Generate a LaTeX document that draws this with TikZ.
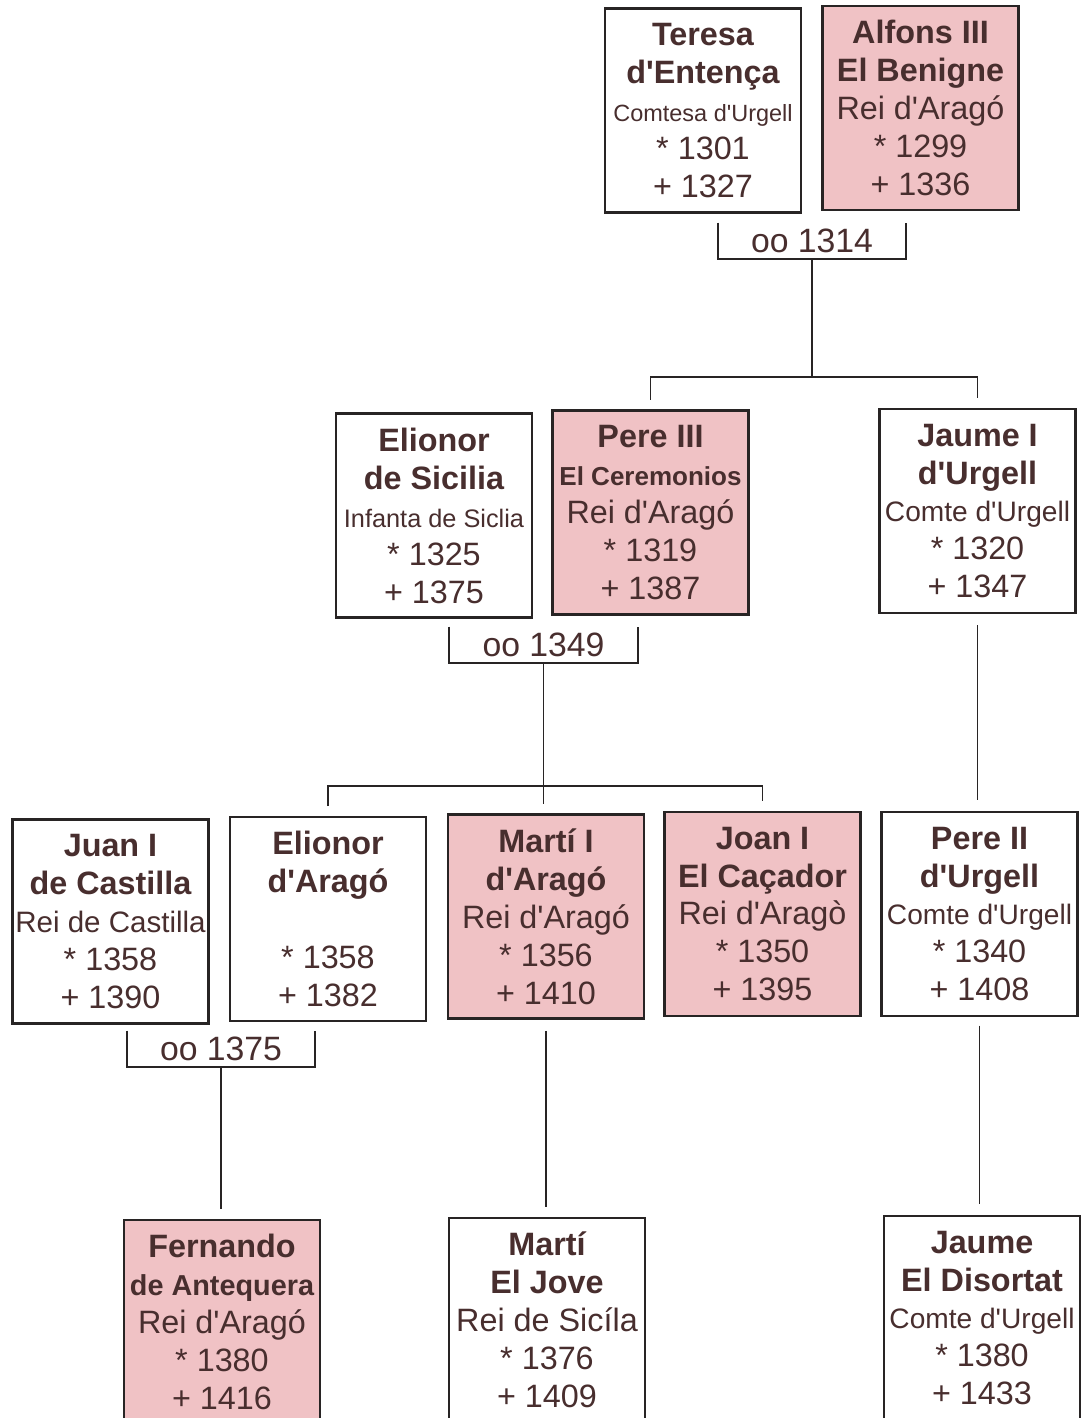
\documentclass[tikz,border=0pt]{standalone}
\usepackage{fontspec}
\setmainfont{Liberation Sans}[Ligatures=TeXOff]
\definecolor{ink}{RGB}{72,46,46}
\definecolor{frame}{RGB}{40,36,36}
\definecolor{rosa}{RGB}{240,194,197}
\newcommand{\who}[2][23]{{\fontsize{#1}{27}\selectfont\bfseries #2}}
\newcommand{\rank}[2][20]{{\fontsize{#1}{27}\selectfont #2}}
\tikzset{
  person/.style={draw=frame, line width=1.6pt, minimum width=4.9cm, minimum height=5.1cm,
    inner sep=0pt, align=center, text=ink, font=\fontsize{23}{27}\selectfont},
  king/.style={person, fill=rosa},
  wed/.style={minimum width=4.7cm, minimum height=0.9cm, inner sep=0pt, text=ink,
    font=\fontsize{24}{27}\selectfont},
  link/.style={draw=frame, line width=1.2pt}
}
\begin{document}
\begin{tikzpicture}[x=0.025cm,y=-0.025cm]
\path[use as bounding box] (0,0) rectangle (1082,1418);
\clip (0,0) rectangle (1082,1418);
\fill[white] (0,0) rectangle (1082,1418);

% first generation
\node[person] (teresa) at (703,110.5) {\who{Teresa}\\ \who{d'Entença}\\ \rank[16.7]{Comtesa d'Urgell}\\ * 1301\\ + 1327};
\node[king] (alfons) at (920.5,108) {\who{Alfons III}\\ \who{El Benigne}\\ Rei d'Aragó\\ * 1299\\ + 1336};
\node[wed] (w1314) at (812,241) {oo 1314};

% second generation
\node[person] (elisic) at (434,515.5) {\who{Elionor}\\ \who{de Sicilia}\\ \rank[18]{Infanta de Siclia}\\ * 1325\\ + 1375};
\node[king] (pereiii) at (650.5,512.5) {\who{Pere III}\\ \who[18.5]{El Ceremonios}\\ Rei d'Aragó\\ * 1319\\ + 1387};
\node[person] (jaumei) at (977.5,511) {\who{Jaume I}\\ \who{d'Urgell}\\ \rank{Comte d'Urgell}\\ * 1320\\ + 1347};
\node[wed] (w1349) at (543.5,645) {oo 1349};

% third generation
\node[person] (juan) at (110.5,921.5) {\who{Juan I}\\ \who{de Castilla}\\ \rank[21]{Rei de Castilla}\\ * 1358\\ + 1390};
\node[person] (eliara) at (328,919) {\who{Elionor}\\ \who{d'Aragó}\\ \mbox{}\\ * 1358\\ + 1382};
\node[king] (marti) at (546,916.5) {\who{Martí I}\\ \who{d'Aragó}\\ Rei d'Aragó\\ * 1356\\ + 1410};
\node[king] (joan) at (762.5,914) {\who{Joan I}\\ \who{El Caçador}\\ Rei d'Aragò\\ * 1350\\ + 1395};
\node[person] (pereii) at (979.5,914) {\who{Pere II}\\ \who{d'Urgell}\\ \rank{Comte d'Urgell}\\ * 1340\\ + 1408};
\node[wed] (w1375) at (221,1049) {oo 1375};

% fourth generation
\node[king] (fernando) at (222,1322) {\who{Fernando}\\ \who[20.5]{de Antequera}\\ Rei d'Aragó\\ * 1380\\ + 1416};
\node[person] (jove) at (547,1320) {\who{Martí}\\ \who{El Jove}\\ Rei de Sicíla\\ * 1376\\ + 1409};
\node[person] (jaumed) at (982,1318) {\who{Jaume}\\ \who{El Disortat}\\ \rank{Comte d'Urgell}\\ * 1380\\ + 1433};

% marriages
\foreach \w in {w1314,w1349,w1375}
  \draw[link] (\w.north west) |- (\w.south) -| (\w.north east);

% children
\draw[link] (w1314.south) -- ++(0,118) coordinate (k1);
\draw[link, shorten <=7pt, shorten >=7pt] (pereiii.north) |- (k1) -| (jaumei.north);
\draw[link, shorten >=7pt] (w1349.south) -- (w1349.south |- marti.north);
\path (w1349.south) ++(0,123) coordinate (k2);
\draw[link, shorten <=7pt, shorten >=7pt] (eliara.north) |- (k2) -| (joan.north);
\draw[link, shorten <=8pt, shorten >=8pt] (jaumei.south) -- (jaumei.south |- pereii.north);
\draw[link, shorten >=7pt] (w1375.south) -- (w1375.south |- fernando.north);
\draw[link, shorten <=8pt, shorten >=7pt] (marti.south) -- (marti.south |- jove.north);
\draw[link, shorten <=6pt, shorten >=8pt] (pereii.south) -- (pereii.south |- jaumed.north);
\end{tikzpicture}
\end{document}
